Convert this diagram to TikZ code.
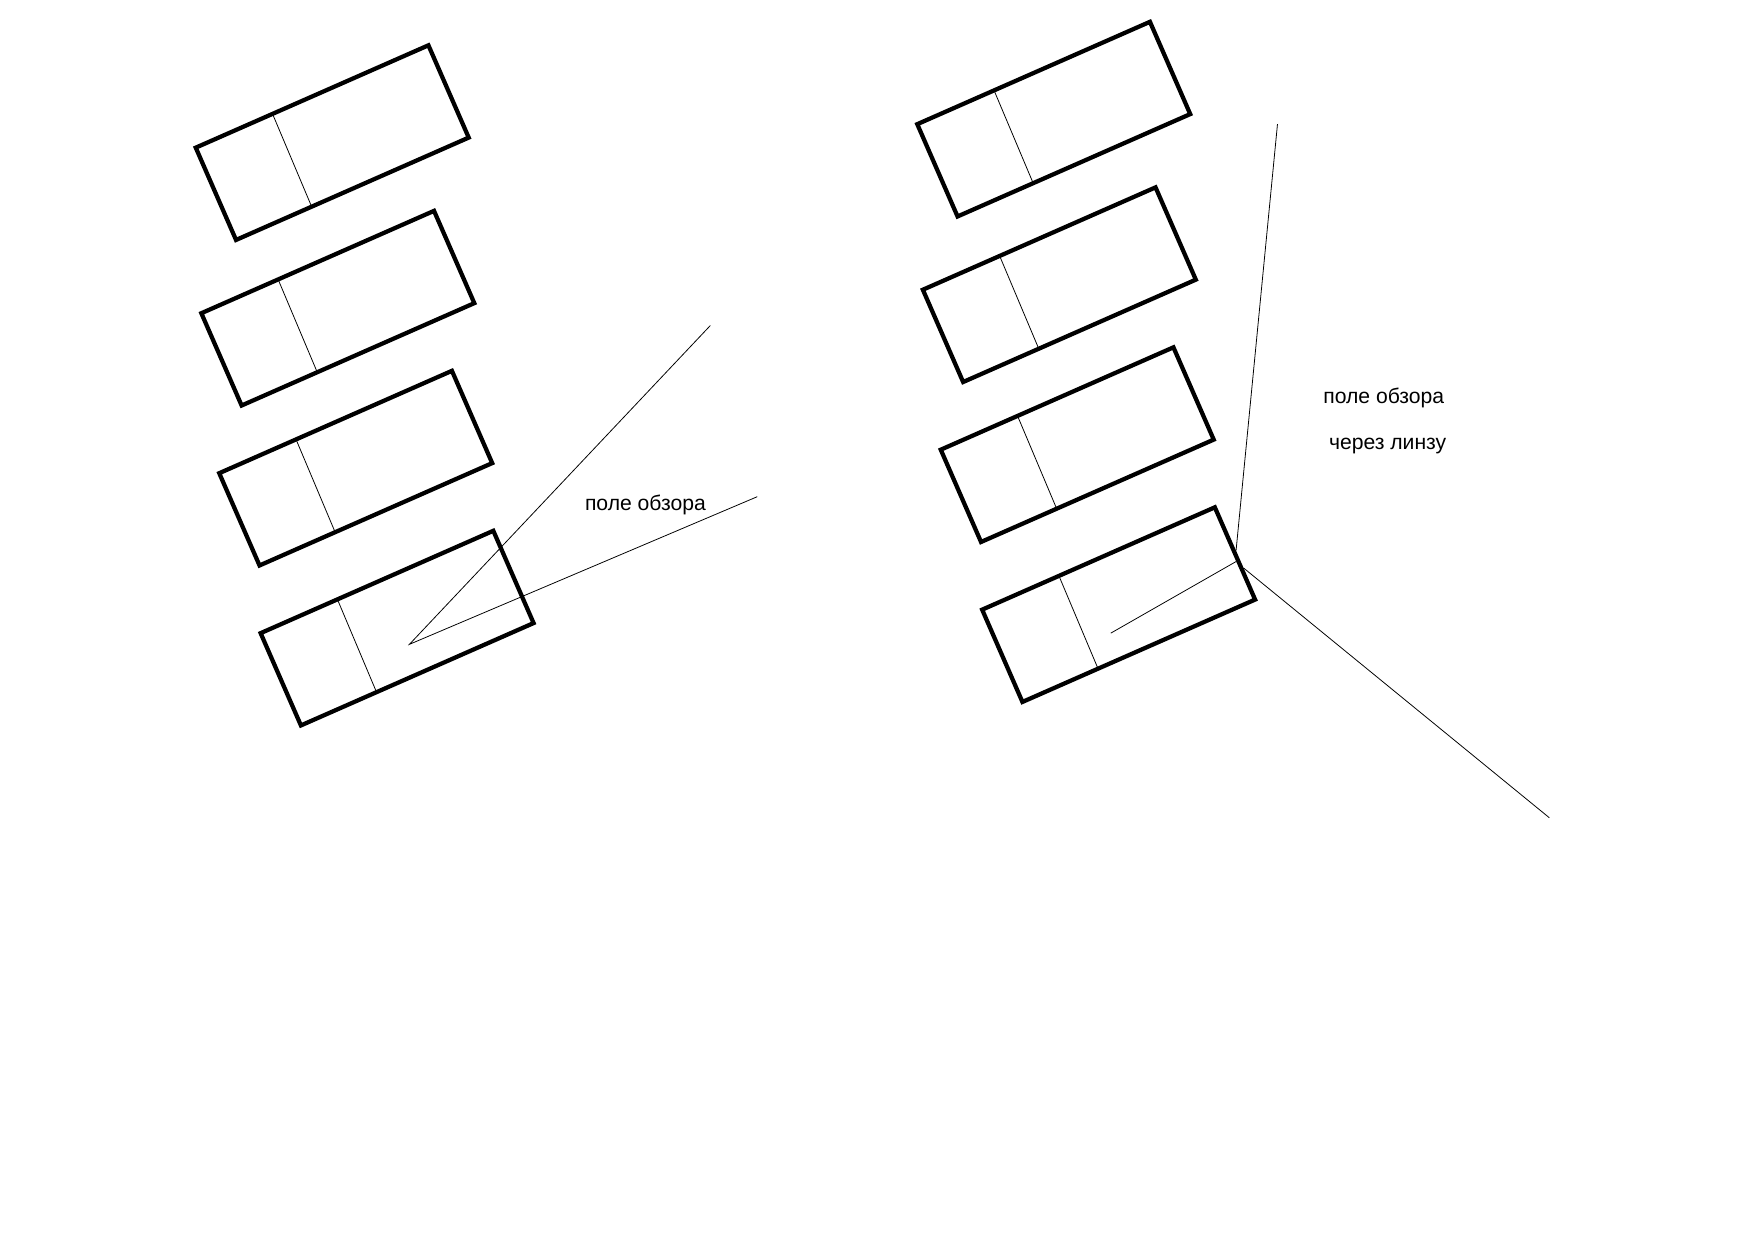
\documentclass[tikz,border=0pt]{standalone}
\usepackage{fontspec}
\setmainfont{Liberation Sans}
\usetikzlibrary{calc}
\tikzset{
  boxline/.style={line width=3.8pt,line join=miter,draw=black},
  thinline/.style={line width=0.7pt,draw=black},
  lbl/.style={font=\fontsize{18.9}{20}\selectfont,inner sep=0pt,text=black}
}
\newcommand{\carbox}[3]{%
  \coordinate (#1a) at (#2,#3);
  \coordinate (#1b) at ($(#1a)+(208,-91.5)$);
  \coordinate (#1c) at ($(#1b)+(36,82.5)$);
  \coordinate (#1d) at ($(#1a)+(36,82.5)$);
  \coordinate (#1e) at ($(#1a)!0.33!(#1b)$);
  \coordinate (#1f) at ($(#1d)!0.325!(#1c)$);
  \draw[thinline] (#1e) -- (#1f);
  \draw[boxline] (#1a) -- (#1b) -- (#1c) -- (#1d) -- cycle;
}
\begin{document}
\begin{tikzpicture}[x=1pt,y=-1pt]
\useasboundingbox (0,0) rectangle (1568,1108.5);
\carbox{la}{175}{132}
\carbox{lb}{180}{280}
\carbox{lc}{196}{423}
\carbox{ld}{233}{566}
\carbox{ra}{820}{111}
\carbox{rb}{825}{259}
\carbox{rc}{841}{402}
\carbox{rd}{878}{545}
\coordinate (apex) at (366,576);
\coordinate (leftup) at (635,291);
\coordinate (leftrt) at (677,444);
\draw[thinline] (leftup) -- (apex) -- (leftrt);
\coordinate (ra1) at (993,566);
\coordinate (ra2) at (1105,502);
\coordinate (rb1) at (1105,492);
\coordinate (rb2) at (1142,111);
\coordinate (rc1) at (1112,508);
\coordinate (rc2) at (1385,731);
\draw[thinline] (ra1) -- (ra2);
\draw[thinline] (rb1) -- (rb2);
\draw[thinline] (rc1) -- (rc2);
\node[lbl] (t1) at (577,451) {поле обзора};
\node[lbl] (t2) at (1237,356) {поле обзора};
\node[lbl] (t3) at (1240.5,398.5) {через линзу};
\end{tikzpicture}
\end{document}
